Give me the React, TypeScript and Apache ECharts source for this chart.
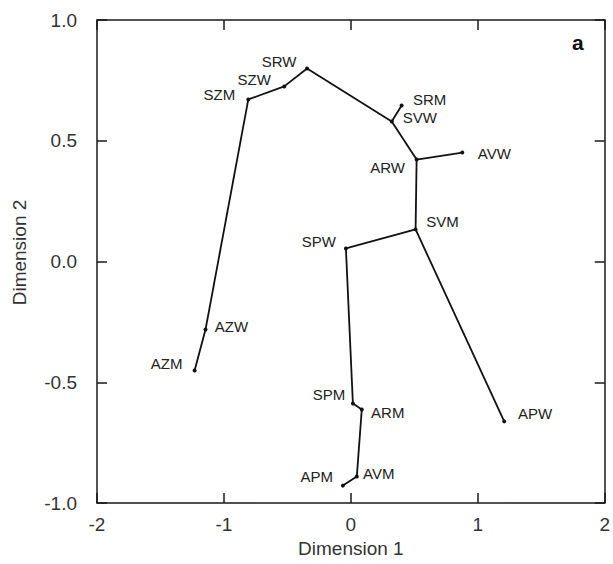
import React, { useEffect, useRef } from "react";
import * as echarts from "echarts";

// Node names and their coordinates (Dimension 1, Dimension 2)
const names = ["SRW", "SZW", "SZM", "AZW", "AZM", "SVW", "SRM", "ARW", "AVW", "SVM", "SPW", "SPM", "ARM", "AVM", "APM", "APW"];
const dim1 = [-0.345, -0.525, -0.808, -1.145, -1.231, 0.322, 0.4, 0.518, 0.878, 0.51, -0.039, 0.016, 0.086, 0.047, -0.063, 1.208];
const dim2 = [0.799, 0.725, 0.671, -0.282, -0.451, 0.58, 0.646, 0.422, 0.451, 0.133, 0.054, -0.588, -0.613, -0.89, -0.928, -0.662];

// Tree edges
const edges: [string, string][] = [
  ["AZM", "AZW"],
  ["AZW", "SZM"],
  ["SZM", "SZW"],
  ["SZW", "SRW"],
  ["SRW", "SVW"],
  ["SVW", "SRM"],
  ["SVW", "ARW"],
  ["ARW", "AVW"],
  ["ARW", "SVM"],
  ["SVM", "SPW"],
  ["SVM", "APW"],
  ["SPW", "SPM"],
  ["SPM", "ARM"],
  ["ARM", "AVM"],
  ["AVM", "APM"],
];

const xTicks = { min: -2, max: 2, interval: 1 };
const yTicks = { min: -1, max: 1, interval: 0.5 };

// label placement (pixel offsets from the point), style only
const labelOffsets: Record<string, [number, number]> = {
  SRW: [-28, -7],
  SZW: [-30, -7],
  SZM: [-29, -5],
  AZW: [26, -3],
  AZM: [-28, -7],
  SVW: [28, -4],
  SRM: [28, -6],
  ARW: [-29, 8],
  AVW: [32, 1],
  SVM: [27, -8],
  SPW: [-27, -7],
  SPM: [-24, -9],
  ARM: [26, 3],
  AVM: [22, -3],
  APM: [-26, -9],
  APW: [31, -8],
};

const FONT = "Liberation Sans, Arial, Helvetica, sans-serif";

export default function App() {
  const ref = useRef<HTMLDivElement>(null);
  useEffect(() => {
    if (!ref.current) return;
    const chart = echarts.init(ref.current, null, { renderer: "svg" });
    const axisLine = { show: true, onZero: false, lineStyle: { color: "#1a1a1a", width: 1.5 } };
    const axisTick = { show: true, inside: true, length: 10, lineStyle: { color: "#1a1a1a", width: 1.5 } };
    const labelStyle = { fontSize: 19, color: "#333", fontFamily: FONT };
    chart.setOption({
      animation: false,
      backgroundColor: "#fff",
      grid: { left: 97, top: 20, right: 6, bottom: 61, containLabel: false },
      graphic: [
        {
          type: "text",
          left: 572,
          top: 32,
          style: { text: "a", fontSize: 21, fontWeight: "bold", fontFamily: FONT, fill: "#111" },
        },
      ],
      xAxis: [
        {
          type: "value",
          position: "bottom",
          ...xTicks,
          axisLine,
          axisTick,
          splitLine: { show: false },
          axisLabel: { ...labelStyle, margin: 12 },
          name: "Dimension 1",
          nameLocation: "middle",
          nameGap: 36,
          nameTextStyle: { fontSize: 19, color: "#333", fontFamily: FONT },
        },
        {
          type: "value",
          position: "top",
          ...xTicks,
          axisLine,
          axisTick,
          splitLine: { show: false },
          axisLabel: { show: false },
        },
      ],
      yAxis: [
        {
          type: "value",
          position: "left",
          ...yTicks,
          axisLine,
          axisTick,
          splitLine: { show: false },
          axisLabel: { ...labelStyle, margin: 20, formatter: (v: number) => v.toFixed(1) },
          name: "Dimension 2",
          nameLocation: "middle",
          nameGap: 68,
          nameTextStyle: { fontSize: 19, color: "#333", fontFamily: FONT, padding: [0, 0, 0, 18] },
        },
        {
          type: "value",
          position: "right",
          ...yTicks,
          axisLine,
          axisTick,
          splitLine: { show: false },
          axisLabel: { show: false },
        },
      ],
      series: [
        {
          type: "graph",
          coordinateSystem: "cartesian2d",
          layout: "none",
          symbol: "circle",
          symbolSize: 4,
          itemStyle: { color: "#111" },
          lineStyle: { color: "#111", width: 1.8, opacity: 1, curveness: 0 },
          label: {
            show: true,
            position: "inside",
            align: "center",
            verticalAlign: "middle",
            formatter: "{b}",
            fontSize: 15,
            color: "#222",
            fontFamily: FONT,
          },
          emphasis: { disabled: true },
          data: names.map((n, i) => ({
            name: n,
            value: [dim1[i], dim2[i]],
            label: { offset: labelOffsets[n] },
          })),
          links: edges.map(([s, t]) => ({ source: s, target: t })),
        },
      ],
    });
    return () => chart.dispose();
  }, []);
  return (
    <div
      ref={ref}
      style={{ position: "fixed", left: 0, top: 0, width: 613, height: 564, background: "#fff" }}
    />
  );
}
